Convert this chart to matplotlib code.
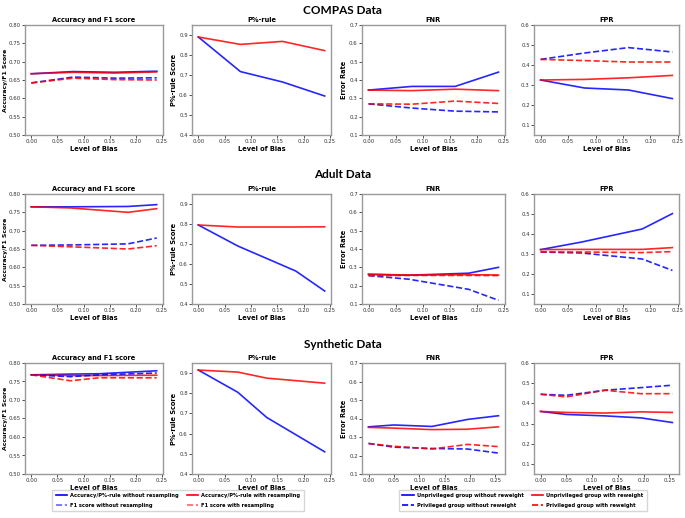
import numpy as np
import matplotlib
matplotlib.use('Agg')
from matplotlib import pyplot as plt
from matplotlib.lines import Line2D

# ---- data ----
datasets_names = ['COMPAS Data', 'Adult Data', 'Synthetic Data']

# x positions (level of bias) per dataset
compas_x = [0.0, 0.08, 0.16, 0.24]
adult_x = [0.0, 0.075, 0.185, 0.24]
synth_x = [0.0, 0.075, 0.13, 0.24]
synth_err_x = [0.0, 0.05, 0.125, 0.195, 0.256]

# COMPAS
compas_acc_wo = [0.667, 0.673, 0.671, 0.674]
compas_acc_w = [0.667, 0.671, 0.669, 0.672]
compas_f1_wo = [0.642, 0.658, 0.655, 0.656]
compas_f1_w = [0.642, 0.655, 0.651, 0.650]
compas_p_wo = [0.89, 0.717, 0.665, 0.595]
compas_p_w = [0.89, 0.853, 0.868, 0.822]
compas_fnr_unpriv_wo = [0.345, 0.365, 0.365, 0.443]
compas_fnr_unpriv_w = [0.345, 0.342, 0.350, 0.342]
compas_fnr_priv_wo = [0.270, 0.247, 0.230, 0.226]
compas_fnr_priv_w = [0.270, 0.268, 0.285, 0.272]
compas_fpr_unpriv_wo = [0.325, 0.285, 0.275, 0.232]
compas_fpr_unpriv_w = [0.325, 0.328, 0.336, 0.348]
compas_fpr_priv_wo = [0.428, 0.460, 0.487, 0.465]
compas_fpr_priv_w = [0.428, 0.422, 0.415, 0.415]

# Adult
adult_acc_wo = [0.765, 0.765, 0.766, 0.771]
adult_acc_w = [0.765, 0.762, 0.750, 0.760]
adult_f1_wo = [0.660, 0.661, 0.664, 0.680]
adult_f1_w = [0.660, 0.656, 0.650, 0.659]
adult_p_wo = [0.795, 0.690, 0.565, 0.465]
adult_p_w = [0.795, 0.785, 0.785, 0.786]
adult_fnr_unpriv_wo = [0.262, 0.257, 0.268, 0.300]
adult_fnr_unpriv_w = [0.262, 0.258, 0.260, 0.258]
adult_fnr_priv_wo = [0.255, 0.235, 0.180, 0.120]
adult_fnr_priv_w = [0.255, 0.256, 0.256, 0.255]
adult_fpr_unpriv_wo = [0.322, 0.360, 0.425, 0.502]
adult_fpr_unpriv_w = [0.322, 0.323, 0.323, 0.332]
adult_fpr_priv_wo = [0.310, 0.305, 0.275, 0.218]
adult_fpr_priv_w = [0.310, 0.310, 0.307, 0.312]

# Synthetic
synth_acc_wo = [0.768, 0.770, 0.771, 0.779]
synth_acc_w = [0.768, 0.766, 0.766, 0.767]
synth_f1_wo = [0.768, 0.763, 0.768, 0.773]
synth_f1_w = [0.768, 0.752, 0.760, 0.760]
synth_p_wo = [0.915, 0.805, 0.680, 0.510]
synth_p_w = [0.915, 0.905, 0.875, 0.850]
synth_fnr_unpriv_wo = [0.355, 0.365, 0.357, 0.395, 0.415]
synth_fnr_unpriv_w = [0.352, 0.348, 0.340, 0.342, 0.355]
synth_fnr_priv_wo = [0.265, 0.245, 0.238, 0.235, 0.213]
synth_fnr_priv_w = [0.265, 0.250, 0.235, 0.260, 0.248]
synth_fpr_unpriv_wo = [0.360, 0.345, 0.338, 0.328, 0.305]
synth_fpr_unpriv_w = [0.360, 0.355, 0.352, 0.358, 0.355]
synth_fpr_priv_wo = [0.445, 0.440, 0.465, 0.478, 0.490]
synth_fpr_priv_w = [0.445, 0.432, 0.465, 0.448, 0.448]

rows = [
    dict(x=compas_x, ex=compas_x,
         acc=(compas_acc_wo, compas_acc_w, compas_f1_wo, compas_f1_w),
         p=(compas_p_wo, compas_p_w),
         fnr=(compas_fnr_unpriv_wo, compas_fnr_unpriv_w, compas_fnr_priv_wo, compas_fnr_priv_w),
         fpr=(compas_fpr_unpriv_wo, compas_fpr_unpriv_w, compas_fpr_priv_wo, compas_fpr_priv_w)),
    dict(x=adult_x, ex=adult_x,
         acc=(adult_acc_wo, adult_acc_w, adult_f1_wo, adult_f1_w),
         p=(adult_p_wo, adult_p_w),
         fnr=(adult_fnr_unpriv_wo, adult_fnr_unpriv_w, adult_fnr_priv_wo, adult_fnr_priv_w),
         fpr=(adult_fpr_unpriv_wo, adult_fpr_unpriv_w, adult_fpr_priv_wo, adult_fpr_priv_w)),
    dict(x=synth_x, ex=synth_err_x,
         acc=(synth_acc_wo, synth_acc_w, synth_f1_wo, synth_f1_w),
         p=(synth_p_wo, synth_p_w),
         fnr=(synth_fnr_unpriv_wo, synth_fnr_unpriv_w, synth_fnr_priv_wo, synth_fnr_priv_w),
         fpr=(synth_fpr_unpriv_wo, synth_fpr_unpriv_w, synth_fpr_priv_wo, synth_fpr_priv_w)),
]

W, H = 685, 518
fig = plt.figure(figsize=(W / 100, H / 100), dpi=100)

col_left = [25, 192, 362, 534]
col_width = [138, 139, 143, 145]
row_top = [25, 194, 363]
row_h = [110, 110, 111]
row_title_y = [10, 174, 344]

LW = 1.2
AL = 0.85
tick_fs = 3.9
lab_fs = 4.8


def style(ax, title, ylabel=None):
    ax.set_title(title, fontsize=lab_fs, fontweight='bold', pad=2)
    ax.set_xlabel('Level of Bias', fontsize=lab_fs, fontweight='bold', labelpad=1)
    if ylabel:
        ax.set_ylabel(ylabel, fontsize=lab_fs, fontweight='bold', labelpad=1.5)
    ax.tick_params(labelsize=tick_fs, length=2, width=0.6, pad=1.0, colors='#333333')
    ax.set_xticks([0, 0.05, 0.10, 0.15, 0.20, 0.25])
    ax.set_xticklabels(['0.00', '0.05', '0.10', '0.15', '0.20', '0.25'])
    for s in ax.spines.values():
        s.set_color('#999999')
        s.set_linewidth(1.0)


for r, d in enumerate(rows):
    axs = []
    for c in range(4):
        ax = fig.add_axes([col_left[c] / W, 1 - (row_top[r] + row_h[r]) / H,
                           col_width[c] / W, row_h[r] / H])
        axs.append(ax)

    # accuracy / F1
    ax = axs[0]
    a_wo, a_w, f_wo, f_w = d['acc']
    ax.plot(d['x'], a_wo, color='blue', lw=LW, alpha=AL)
    ax.plot(d['x'], a_w, color='red', lw=LW, alpha=AL)
    ax.plot(d['x'], f_wo, color='blue', lw=LW, alpha=AL, ls='--')
    ax.plot(d['x'], f_w, color='red', lw=LW, alpha=AL, ls='--')
    ax.set_ylim(0.5, 0.8)
    ax.set_yticks(np.arange(0.5, 0.801, 0.05))
    ax.set_yticklabels(['%.2f' % v for v in np.arange(0.5, 0.801, 0.05)])
    style(ax, 'Accuracy and F1 score')
    ax.set_ylabel('Accuracy/F1 Score', fontsize=4.4, fontweight='bold')
    ax.yaxis.set_label_coords(-0.125, 0.5)

    # P%-rule
    ax = axs[1]
    p_wo, p_w = d['p']
    ax.plot(d['x'], p_wo, color='blue', lw=LW, alpha=AL)
    ax.plot(d['x'], p_w, color='red', lw=LW, alpha=AL)
    ax.set_ylim(0.4, 0.95)
    ax.set_yticks([0.4, 0.5, 0.6, 0.7, 0.8, 0.9])
    style(ax, 'P%-rule', 'P%-rule Score')

    # FNR
    ax = axs[2]
    u_wo, u_w, pr_wo, pr_w = d['fnr']
    ax.plot(d['ex'], u_wo, color='blue', lw=LW, alpha=AL)
    ax.plot(d['ex'], u_w, color='red', lw=LW, alpha=AL)
    ax.plot(d['ex'], pr_wo, color='blue', lw=LW, alpha=AL, ls='--')
    ax.plot(d['ex'], pr_w, color='red', lw=LW, alpha=AL, ls='--')
    ax.set_ylim(0.1, 0.7)
    ax.set_yticks([0.1, 0.2, 0.3, 0.4, 0.5, 0.6, 0.7])
    style(ax, 'FNR', 'Error Rate')

    # FPR
    ax = axs[3]
    u_wo, u_w, pr_wo, pr_w = d['fpr']
    ax.plot(d['ex'], u_wo, color='blue', lw=LW, alpha=AL)
    ax.plot(d['ex'], u_w, color='red', lw=LW, alpha=AL)
    ax.plot(d['ex'], pr_wo, color='blue', lw=LW, alpha=AL, ls='--')
    ax.plot(d['ex'], pr_w, color='red', lw=LW, alpha=AL, ls='--')
    ax.set_ylim(0.05, 0.6)
    ax.set_yticks([0.1, 0.2, 0.3, 0.4, 0.5, 0.6])
    style(ax, 'FPR')

    fig.text(0.5, 1 - row_title_y[r] / H, datasets_names[r], ha='center', va='center',
             fontsize=8.5, fontweight='bold', family='Lato')

# legends
left_handles = [
    Line2D([], [], color='blue', lw=LW),
    Line2D([], [], color='blue', lw=LW, ls='--', alpha=0.6),
    Line2D([], [], color='red', lw=LW),
    Line2D([], [], color='red', lw=LW, ls='--', alpha=0.6),
]
left_labels = ['Accuracy/P%-rule without resampling', 'F1 score without resampling',
               'Accuracy/P%-rule with resampling', 'F1 score with resampling']
right_handles = [
    Line2D([], [], color='blue', lw=LW),
    Line2D([], [], color='blue', lw=LW, ls='--'),
    Line2D([], [], color='red', lw=LW),
    Line2D([], [], color='red', lw=LW, ls='--'),
]
right_labels = ['Unprivileged group without reweight', 'Privileged group without reweight',
                'Unprivileged group with reweight', 'Privileged group with reweight']

legkw = dict(ncol=2, loc='upper center', frameon=True, fancybox=False, edgecolor='#cccccc',
             prop=dict(size=3.7, weight='bold'), handlelength=2.2, columnspacing=1.6,
             borderpad=0.7, labelspacing=0.85, handletextpad=0.6)
fig.legend(left_handles, left_labels, bbox_to_anchor=(178 / W, 1 - 487 / H), **legkw)
fig.legend(right_handles, right_labels, bbox_to_anchor=(523 / W, 1 - 487 / H), **legkw)

fig.savefig('out.png', dpi=100)
